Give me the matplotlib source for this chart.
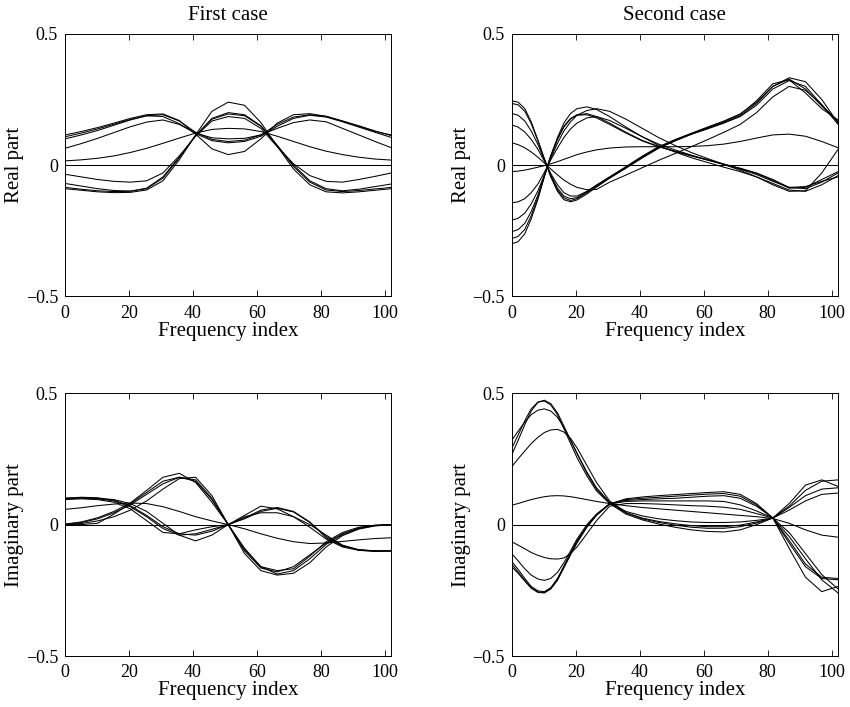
import matplotlib
matplotlib.use('Agg')
import matplotlib.pyplot as plt

plt.rcParams['font.family'] = ['Liberation Serif', 'DejaVu Serif']

# ---- data ----
# first case: sample positions
x_first = [0, 5.1, 10.2, 15.3, 20.4, 25.5, 30.6, 35.7, 40.8, 45.9, 51,
           56.1, 61.2, 66.3, 71.4, 76.5, 81.6, 86.7, 91.8, 96.9, 102]
# second case: denser at the start where the curves bend sharply
x_second = [0, 2, 4.1, 6.1, 8.2, 10.2, 12.2, 14.3, 16.3, 18.4, 20.4, 23.5, 26.5,
            30.6, 35.7, 40.8, 45.9, 51, 56.1, 61.2, 66.3, 71.4, 76.5, 81.6,
            86.7, 91.8, 96.9, 102]

zero_first = [0.0] * 21
zero_second = [0.0] * 28

# real part, first case
real1_a1 = [0.100, 0.115, 0.132, 0.152, 0.172, 0.188, 0.185, 0.158, 0.120, 0.093, 0.085,
            0.090, 0.110, 0.148, 0.178, 0.190, 0.183, 0.165, 0.145, 0.125, 0.105]
real1_a2 = [0.108, 0.122, 0.138, 0.156, 0.174, 0.188, 0.192, 0.168, 0.125, 0.098, 0.090,
            0.095, 0.115, 0.155, 0.183, 0.192, 0.186, 0.168, 0.150, 0.130, 0.112]
real1_a3 = [0.115, 0.128, 0.143, 0.160, 0.178, 0.192, 0.195, 0.170, 0.118, 0.062, 0.040,
            0.052, 0.100, 0.160, 0.192, 0.196, 0.186, 0.168, 0.148, 0.128, 0.115]
real1_a4 = [0.064, 0.082, 0.102, 0.124, 0.146, 0.164, 0.172, 0.155, 0.122, 0.104, 0.100,
            0.102, 0.115, 0.140, 0.162, 0.172, 0.165, 0.140, 0.115, 0.090, 0.066]
real1_b1 = [-0.085, -0.092, -0.098, -0.101, -0.100, -0.088, -0.045, 0.030, 0.112, 0.178, 0.200,
            0.192, 0.150, 0.075, -0.005, -0.065, -0.095, -0.101, -0.097, -0.091, -0.085]
real1_b2 = [-0.070, -0.080, -0.090, -0.097, -0.099, -0.090, -0.050, 0.028, 0.113, 0.175, 0.195,
            0.188, 0.148, 0.075, 0.000, -0.060, -0.090, -0.098, -0.092, -0.082, -0.072]
real1_b3 = [-0.090, -0.096, -0.102, -0.105, -0.104, -0.095, -0.060, 0.020, 0.115, 0.205, 0.240,
            0.228, 0.162, 0.072, -0.015, -0.075, -0.102, -0.106, -0.102, -0.096, -0.090]
real1_b4 = [-0.035, -0.045, -0.055, -0.062, -0.065, -0.060, -0.030, 0.035, 0.110, 0.168, 0.185,
            0.178, 0.140, 0.070, 0.005, -0.040, -0.062, -0.065, -0.055, -0.043, -0.030]
real1_c = [0.016, 0.020, 0.026, 0.035, 0.048, 0.064, 0.083, 0.103, 0.122, 0.136, 0.140,
           0.138, 0.128, 0.110, 0.090, 0.070, 0.053, 0.040, 0.030, 0.023, 0.019]

# imaginary part, first case
imag1_q1 = [0.000, 0.008, 0.022, 0.045, 0.075, 0.115, 0.155, 0.180, 0.170, 0.100, 0.000,
            -0.100, -0.165, -0.180, -0.160, -0.115, -0.070, -0.035, -0.013, -0.003, 0.000]
imag1_q2 = [0.002, 0.010, 0.026, 0.050, 0.082, 0.130, 0.180, 0.195, 0.160, 0.085, 0.000,
            -0.090, -0.160, -0.188, -0.175, -0.130, -0.075, -0.038, -0.015, -0.004, 0.000]
imag1_q3 = [0.000, 0.004, 0.014, 0.030, 0.055, 0.090, 0.135, 0.175, 0.180, 0.110, 0.000,
            -0.110, -0.175, -0.192, -0.185, -0.145, -0.085, -0.042, -0.017, -0.005, 0.000]
imag1_q4 = [0.000, 0.000, 0.005, 0.040, 0.080, 0.122, 0.165, 0.180, 0.165, 0.095, 0.000,
            -0.095, -0.160, -0.175, -0.168, -0.120, -0.065, -0.030, -0.010, -0.002, 0.000]
imag1_r1 = [0.100, 0.100, 0.098, 0.090, 0.068, 0.030, -0.015, -0.040, -0.035, -0.018, 0.000,
            0.025, 0.055, 0.065, 0.050, 0.010, -0.050, -0.082, -0.095, -0.100, -0.100]
imag1_r2 = [0.100, 0.102, 0.100, 0.095, 0.080, 0.050, 0.005, -0.040, -0.062, -0.040, 0.000,
            0.030, 0.045, 0.045, 0.030, 0.000, -0.040, -0.078, -0.096, -0.100, -0.100]
imag1_r3 = [0.095, 0.098, 0.095, 0.085, 0.060, 0.015, -0.030, -0.035, -0.020, -0.008, 0.000,
            0.035, 0.070, 0.060, 0.030, -0.010, -0.055, -0.085, -0.098, -0.102, -0.100]
imag1_r4 = [0.100, 0.104, 0.102, 0.092, 0.072, 0.035, -0.008, -0.035, -0.040, -0.025, 0.000,
            0.022, 0.050, 0.062, 0.048, 0.008, -0.045, -0.080, -0.097, -0.101, -0.100]
imag1_s = [0.058, 0.064, 0.072, 0.078, 0.082, 0.080, 0.068, 0.050, 0.030, 0.014, 0.000,
           -0.016, -0.035, -0.052, -0.065, -0.072, -0.070, -0.064, -0.058, -0.053, -0.050]

# real part, second case
real2_n1 = [0.245, 0.240, 0.215, 0.165, 0.095, 0.025, -0.040, -0.095, -0.125, -0.135, -0.128,
            -0.105, -0.080, -0.048, -0.010, 0.030, 0.065, 0.092, 0.118, 0.140, 0.162,
            0.188, 0.235, 0.300, 0.328, 0.290, 0.225, 0.165]
real2_n2 = [0.235, 0.230, 0.205, 0.158, 0.092, 0.022, -0.045, -0.100, -0.132, -0.140, -0.133,
            -0.110, -0.084, -0.050, -0.012, 0.027, 0.064, 0.093, 0.117, 0.138, 0.160,
            0.185, 0.228, 0.290, 0.322, 0.300, 0.230, 0.155]
real2_n3 = [0.197, 0.190, 0.168, 0.130, 0.078, 0.020, -0.038, -0.088, -0.118, -0.128, -0.124,
            -0.102, -0.078, -0.046, -0.008, 0.032, 0.068, 0.095, 0.120, 0.142, 0.165,
            0.193, 0.245, 0.310, 0.325, 0.275, 0.215, 0.172]
real2_n4 = [0.153, 0.145, 0.126, 0.098, 0.060, 0.015, -0.032, -0.075, -0.105, -0.118, -0.118,
            -0.100, -0.076, -0.045, -0.006, 0.034, 0.070, 0.097, 0.121, 0.145, 0.168,
            0.195, 0.240, 0.300, 0.333, 0.318, 0.250, 0.160]
real2_n5 = [0.085, 0.078, 0.066, 0.050, 0.030, 0.008, -0.015, -0.037, -0.057, -0.073, -0.085,
            -0.094, -0.093, -0.065, -0.038, -0.010, 0.018, 0.044, 0.070, 0.097, 0.125,
            0.155, 0.200, 0.260, 0.300, 0.285, 0.230, 0.165]
real2_p1 = [-0.300, -0.292, -0.262, -0.205, -0.130, -0.045, 0.035, 0.100, 0.148, 0.178, 0.190,
            0.192, 0.180, 0.155, 0.122, 0.092, 0.070, 0.052, 0.035, 0.019, 0.003,
            -0.013, -0.032, -0.058, -0.088, -0.085, -0.055, -0.025]
real2_p2 = [-0.280, -0.272, -0.245, -0.193, -0.123, -0.043, 0.033, 0.097, 0.145, 0.176, 0.192,
            0.196, 0.185, 0.160, 0.125, 0.094, 0.071, 0.053, 0.036, 0.020, 0.004,
            -0.012, -0.030, -0.055, -0.085, -0.090, -0.065, -0.030]
real2_p3 = [-0.254, -0.246, -0.222, -0.177, -0.114, -0.040, 0.035, 0.105, 0.160, 0.197, 0.215,
            0.222, 0.212, 0.185, 0.145, 0.108, 0.075, 0.050, 0.028, 0.010, -0.008,
            -0.025, -0.045, -0.070, -0.095, -0.100, -0.075, -0.040]
real2_p4 = [-0.210, -0.203, -0.183, -0.148, -0.098, -0.038, 0.025, 0.083, 0.130, 0.165, 0.190,
            0.208, 0.215, 0.205, 0.175, 0.140, 0.105, 0.075, 0.048, 0.025, 0.003,
            -0.020, -0.045, -0.075, -0.100, -0.098, -0.030, 0.060]
real2_p5 = [-0.144, -0.140, -0.128, -0.105, -0.072, -0.028, 0.020, 0.065, 0.105, 0.138, 0.160,
            0.180, 0.185, 0.170, 0.140, 0.108, 0.080, 0.058, 0.038, 0.020, 0.002,
            -0.016, -0.036, -0.062, -0.085, -0.082, -0.062, -0.045]
real2_m = [-0.025, -0.023, -0.019, -0.014, -0.008, -0.002, 0.005, 0.013, 0.022, 0.031, 0.040,
           0.050, 0.058, 0.065, 0.069, 0.070, 0.070, 0.070, 0.071, 0.074, 0.080,
           0.090, 0.103, 0.115, 0.118, 0.110, 0.090, 0.066]

# imaginary part, second case
imag2_u1 = [0.265, 0.320, 0.380, 0.432, 0.465, 0.473, 0.460, 0.425, 0.375, 0.320, 0.270,
            0.195, 0.135, 0.082, 0.045, 0.025, 0.012, 0.003, -0.004, -0.008, -0.008,
            -0.002, 0.010, 0.025, 0.055, 0.090, 0.115, 0.120]
imag2_u2 = [0.290, 0.340, 0.395, 0.440, 0.466, 0.470, 0.455, 0.418, 0.365, 0.308, 0.255,
            0.185, 0.128, 0.080, 0.040, 0.018, 0.002, -0.010, -0.020, -0.026, -0.028,
            -0.020, 0.000, 0.025, 0.065, 0.110, 0.135, 0.140]
imag2_u3 = [0.320, 0.355, 0.390, 0.418, 0.435, 0.440, 0.432, 0.408, 0.370, 0.322, 0.272,
            0.200, 0.140, 0.085, 0.050, 0.033, 0.022, 0.015, 0.010, 0.008, 0.008,
            0.010, 0.016, 0.025, 0.070, 0.130, 0.165, 0.170]
imag2_u4 = [0.220, 0.250, 0.280, 0.308, 0.332, 0.350, 0.360, 0.362, 0.352, 0.328, 0.292,
            0.225, 0.160, 0.090, 0.045, 0.022, 0.008, -0.002, -0.010, -0.014, -0.014,
            -0.008, 0.006, 0.025, 0.080, 0.150, 0.170, 0.145]
imag2_v = [0.074, 0.080, 0.088, 0.095, 0.101, 0.106, 0.109, 0.110, 0.109, 0.106, 0.102,
           0.095, 0.088, 0.080, 0.072, 0.065, 0.060, 0.055, 0.050, 0.045, 0.040,
           0.035, 0.030, 0.023, 0.005, -0.020, -0.040, -0.048]
imag2_w1 = [-0.160, -0.185, -0.215, -0.242, -0.258, -0.260, -0.245, -0.212, -0.165, -0.115, -0.070,
            -0.010, 0.035, 0.078, 0.098, 0.105, 0.110, 0.114, 0.118, 0.122, 0.125,
            0.115, 0.080, 0.025, -0.070, -0.160, -0.205, -0.210]
imag2_w2 = [-0.140, -0.170, -0.205, -0.235, -0.252, -0.255, -0.240, -0.205, -0.158, -0.108, -0.062,
            -0.005, 0.038, 0.080, 0.092, 0.095, 0.098, 0.100, 0.104, 0.108, 0.110,
            0.100, 0.070, 0.025, -0.060, -0.150, -0.200, -0.205]
imag2_w3 = [-0.110, -0.138, -0.168, -0.192, -0.207, -0.212, -0.205, -0.182, -0.145, -0.100, -0.055,
            0.000, 0.040, 0.078, 0.088, 0.090, 0.090, 0.090, 0.090, 0.090, 0.088,
            0.075, 0.052, 0.025, -0.045, -0.130, -0.210, -0.260]
imag2_w4 = [-0.065, -0.078, -0.092, -0.106, -0.117, -0.125, -0.130, -0.131, -0.127, -0.110, -0.085,
            -0.035, 0.015, 0.070, 0.080, 0.080, 0.078, 0.075, 0.072, 0.070, 0.066,
            0.058, 0.042, 0.025, -0.030, -0.110, -0.190, -0.245]
imag2_w5 = [-0.150, -0.180, -0.212, -0.240, -0.256, -0.258, -0.243, -0.208, -0.160, -0.110, -0.065,
            -0.008, 0.036, 0.079, 0.095, 0.100, 0.104, 0.108, 0.112, 0.116, 0.118,
            0.108, 0.075, 0.025, -0.090, -0.200, -0.255, -0.235]

real1_curves = [zero_first, real1_a1, real1_a2, real1_a3, real1_a4,
                real1_b1, real1_b2, real1_b3, real1_b4, real1_c]
imag1_curves = [zero_first, imag1_q1, imag1_q2, imag1_q3, imag1_q4,
                imag1_r1, imag1_r2, imag1_r3, imag1_r4, imag1_s]
real2_curves = [zero_second, real2_n1, real2_n2, real2_n3, real2_n4, real2_n5,
                real2_p1, real2_p2, real2_p3, real2_p4, real2_p5, real2_m]
imag2_curves = [zero_second, imag2_u1, imag2_u2, imag2_u3, imag2_u4, imag2_v,
                imag2_w1, imag2_w2, imag2_w3, imag2_w4, imag2_w5]

x_ticks = [0, 20, 40, 60, 80, 100]
y_ticks = [-0.5, 0, 0.5]
y_tick_labels = ['\u22120.5', '0', '0.5']

fig = plt.figure(figsize=(8.5, 7.07), dpi=100)

panels = [
    ([0.0765, 0.581, 0.384, 0.371], x_first, real1_curves, 'Real part', 'First case'),
    ([0.602, 0.581, 0.384, 0.371], x_second, real2_curves, 'Real part', 'Second case'),
    ([0.0765, 0.072, 0.384, 0.372], x_first, imag1_curves, 'Imaginary part', None),
    ([0.602, 0.072, 0.384, 0.372], x_second, imag2_curves, 'Imaginary part', None),
]

for rect, xs, curves, ylab, title in panels:
    ax = fig.add_axes(rect)
    for ys in curves:
        ax.plot(xs, ys, color='black', linewidth=0.75)
    ax.set_xlim(0, 102)
    ax.set_ylim(-0.5, 0.5)
    ax.set_xticks(x_ticks)
    ax.set_yticks(y_ticks)
    ax.set_yticklabels(y_tick_labels)
    ax.tick_params(direction='in', top=True, right=True, length=4, width=0.6,
                   labelsize=13)
    ax.tick_params(axis='x', pad=6)
    ax.tick_params(axis='y', pad=5)
    for sp in ax.spines.values():
        sp.set_linewidth(0.7)
    ax.set_xlabel('Frequency index', fontsize=15, labelpad=0)
    ax.set_ylabel(ylab, fontsize=15)
    ax.yaxis.set_label_coords(-0.125, 0.5)
    if title:
        ax.set_title(title, fontsize=15, pad=10)

fig.savefig('out.png', dpi=100)
